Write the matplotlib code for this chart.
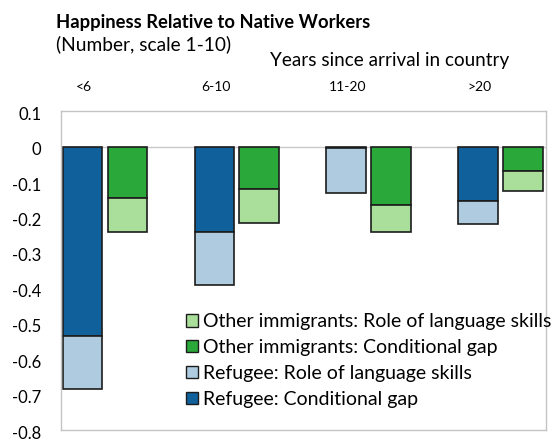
import numpy as np
import matplotlib
matplotlib.use("Agg")
import matplotlib.pyplot as plt
from matplotlib.patches import Patch
from matplotlib.transforms import ScaledTranslation

plt.rcParams['font.family'] = ['Lato', 'DejaVu Sans']

# years since arrival
groups = ["<6", "6-10", "11-20", ">20"]

# refugees: conditional gap and the extra part explained by language skills
refugee_gap = [-0.535, -0.24, -0.005, -0.155]
refugee_lang = [-0.15, -0.15, -0.125, -0.065]

# other immigrants
other_gap = [-0.145, -0.12, -0.165, -0.07]
other_lang = [-0.095, -0.095, -0.075, -0.055]

c_ref_gap = "#10609c"
c_ref_lang = "#aecbe0"
c_oth_gap = "#2aa83a"
c_oth_lang = "#a9df9a"
edge = "#1c1c1c"

x = np.arange(len(groups))
w = 0.3
off = 0.17

fig = plt.figure(figsize=(5.53, 4.41), dpi=100)
ax = fig.add_axes([0.110, 0.025, 0.877, 0.723])

ax.axhline(0, color="#c9c9c9", lw=1, zorder=1)

ax.bar(x - off, refugee_gap, w, color=c_ref_gap, edgecolor=edge, lw=1.2, zorder=2)
ax.bar(x - off, refugee_lang, w, bottom=refugee_gap, color=c_ref_lang,
       edgecolor=edge, lw=1.2, zorder=2)
ax.bar(x + off, other_gap, w, color=c_oth_gap, edgecolor=edge, lw=1.2, zorder=2)
ax.bar(x + off, other_lang, w, bottom=other_gap, color=c_oth_lang,
       edgecolor=edge, lw=1.2, zorder=2)

ax.set_xlim(-0.335, 3.345)
ax.set_ylim(-0.8, 0.1)

yt = np.round(np.arange(0.1, -0.81, -0.1), 1)
ax.set_yticks(yt)
ax.set_yticklabels(["0" if v == 0 else f"{v:g}" for v in yt])
ax.tick_params(axis="y", length=0, pad=14, labelsize=12)
shift = ScaledTranslation(0, -1.5 / 72, fig.dpi_scale_trans)
for lab in ax.get_yticklabels():
    lab.set_transform(lab.get_transform() + shift)

ax.xaxis.tick_top()
ax.set_xticks(x - 0.16)
ax.set_xticklabels(groups)
ax.tick_params(axis="x", length=0, pad=13, labelsize=10)

for s in ax.spines.values():
    s.set_color("#c4c4c4")
    s.set_linewidth(1)

fig.text(0.101, 0.936, "Happiness Relative to Native Workers",
         fontsize=13.2, fontweight="bold", ha="left", va="baseline")
fig.text(0.101, 0.886, "(Number, scale 1-10)", fontsize=13.8,
         ha="left", va="baseline")
fig.text(0.488, 0.850, "Years since arrival in country", fontsize=13.6,
         ha="left", va="baseline")

handles = [
    Patch(facecolor=c_oth_lang, edgecolor=edge, label="Other immigrants: Role of language skills"),
    Patch(facecolor=c_oth_gap, edgecolor=edge, label="Other immigrants: Conditional gap"),
    Patch(facecolor=c_ref_lang, edgecolor=edge, label="Refugee: Role of language skills"),
    Patch(facecolor=c_ref_gap, edgecolor=edge, label="Refugee: Conditional gap"),
]
fig.legend(handles=handles, loc="upper left", bbox_to_anchor=(0.322, 0.307),
           frameon=False, fontsize=14, handlelength=0.6, handleheight=0.6,
           handletextpad=0.3, labelspacing=0.45, borderaxespad=0)

fig.savefig("out.png", dpi=100)
